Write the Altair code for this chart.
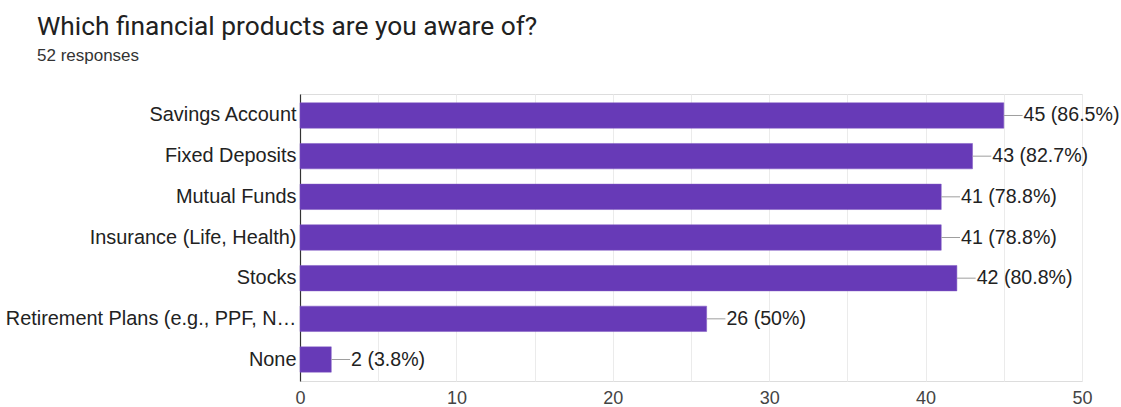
import altair as alt
import pandas as pd

categories = [
    "Savings Account",
    "Fixed Deposits",
    "Mutual Funds",
    "Insurance (Life, Health)",
    "Stocks",
    "Retirement Plans (e.g., PPF, N…",
    "None",
]
counts = [45, 43, 41, 41, 42, 26, 2]
percents = ["86.5%", "82.7%", "78.8%", "78.8%", "80.8%", "50%", "3.8%"]

df = pd.DataFrame({"category": categories, "count": counts, "pct": percents})
df["label"] = df["count"].astype(str) + " (" + df["pct"] + ")"

y_enc = alt.Y(
    "category:N",
    sort=categories,
    title=None,
    scale=alt.Scale(paddingInner=0.375, paddingOuter=0.216),
    axis=alt.Axis(
        labelFontSize=19.9,
        labelFont="Liberation Sans",
        labelColor="#222222",
        labelPadding=4,
        tickSize=0,
        domainColor="#333333",
        domainWidth=1.2,
        labelLimit=400,
        grid=False,
    ),
)

x_enc = alt.X(
    "count:Q",
    title=None,
    scale=alt.Scale(domain=[0, 50], nice=False),
    axis=alt.Axis(
        values=list(range(0, 51, 5)),
        labelExpr="datum.value % 10 == 0 ? datum.label : ''",
        labelFontSize=18,
        labelFont="Liberation Sans",
        labelColor="#444444",
        labelPadding=8,
        labelFlush=False,
        tickSize=0,
        domain=False,
        gridColor="#ebebeb",
        gridWidth=1,
    ),
)

base = alt.Chart(df)

bars = base.mark_bar(color="#673ab7", stroke="#7e57c2", strokeWidth=0.5).encode(
    x=x_enc, y=y_enc
)

rules = base.transform_calculate(end="datum.count + 1.2").mark_rule(
    color="#9e9e9e", strokeWidth=1
).encode(x="count:Q", x2="end:Q", y=alt.Y("category:N", sort=categories))

texts = base.transform_calculate(end="datum.count + 1.2").mark_text(
    align="left",
    baseline="middle",
    dx=1,
    fontSize=19.6,
    font="Liberation Sans",
    color="#222222",
).encode(x="end:Q", y=alt.Y("category:N", sort=categories), text="label:N")

chart = (
    alt.layer(bars, rules, texts)
    .properties(
        width=782,
        height=287,
        autosize=alt.AutoSizeParams(type="none"),
        padding={"left": 300, "top": 94, "right": 39, "bottom": 26},
        title=alt.TitleParams(
            text="Which financial products are you aware of?",
            subtitle="52 responses",
            anchor="start",
            frame="group",
            dx=-263,
            offset=30,
            font="Roboto",
            fontSize=26.3,
            fontWeight="normal",
            color="#212121",
            subtitleFont="Liberation Sans",
            subtitleFontSize=17,
            subtitleColor="#333333",
            subtitlePadding=8,
        ),
    )
    .configure_view(stroke="#e6e6e6", strokeWidth=1)
    .configure(background="white")
)

chart.save("out.html", embed_options={"renderer": "svg", "actions": False})
